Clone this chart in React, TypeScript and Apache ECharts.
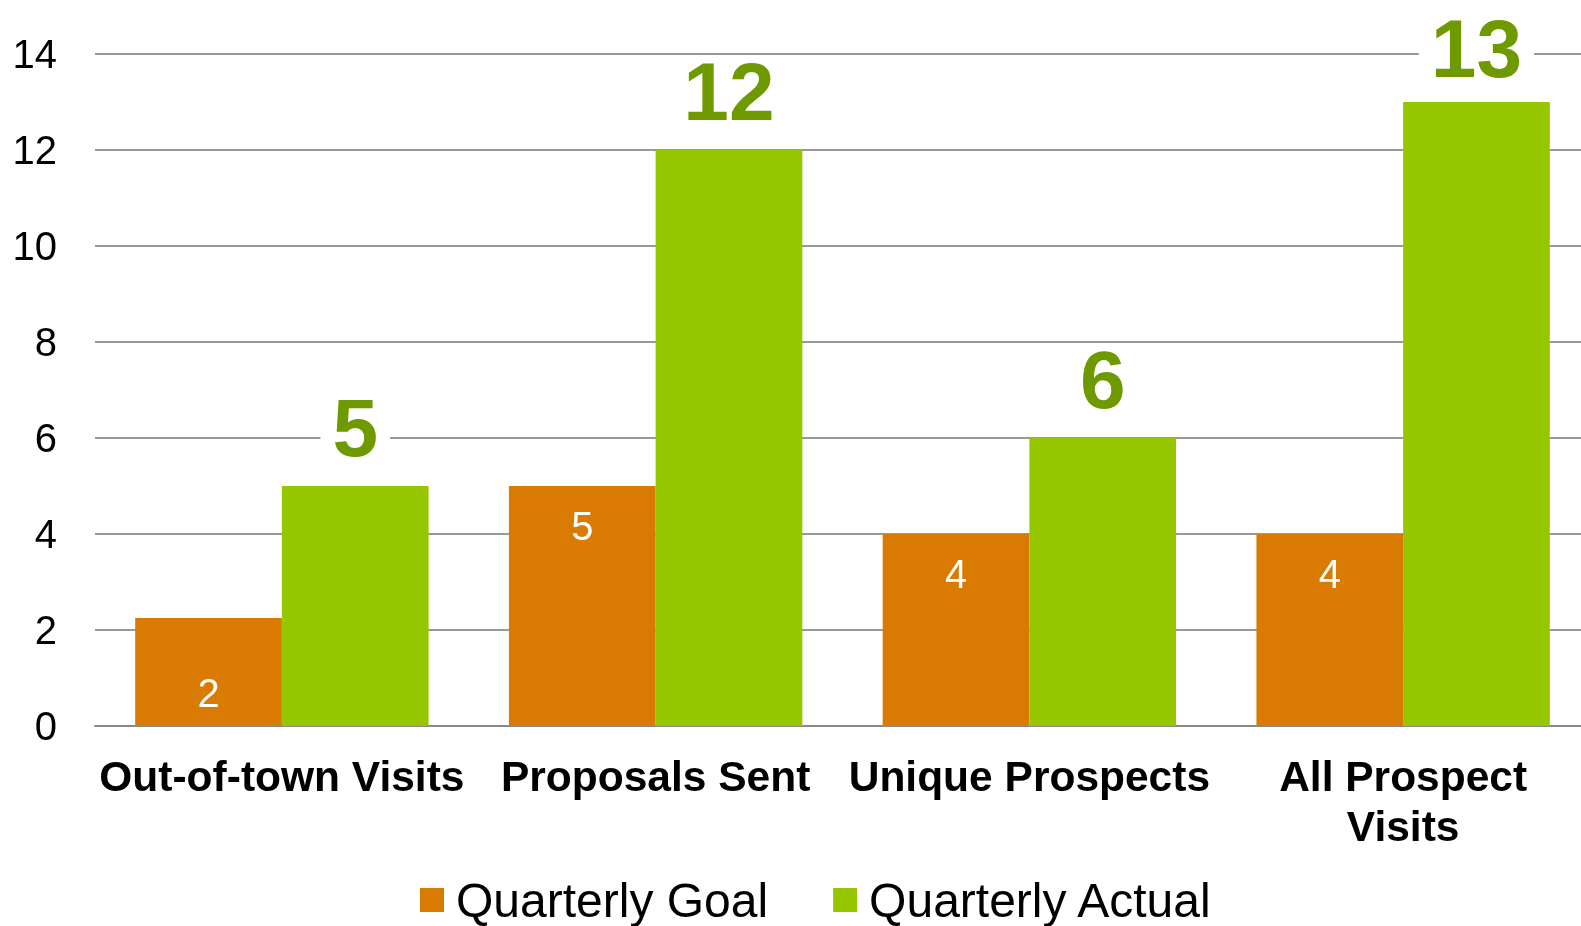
import React, { useEffect, useRef } from "react";
import * as echarts from "echarts";

const categories = ["Out-of-town Visits", "Proposals Sent", "Unique Prospects", "All Prospect\nVisits"];
const goalValues = [2.25, 5, 4, 4];
const actualValues = [5, 12, 6, 13];
const yTicks = { min: 0, max: 14, interval: 2 };

const FONT = "Liberation Sans, Arial, sans-serif";

export default function App() {
  const ref = useRef<HTMLDivElement>(null);
  useEffect(() => {
    if (!ref.current) return;
    const chart = echarts.init(ref.current, undefined, { renderer: "svg" });
    chart.setOption({
      animation: false,
      textStyle: { fontFamily: FONT },
      grid: { left: 95, right: 0, top: 54, bottom: 200, containLabel: false },
      legend: {
        left: 420,
        top: 876,
        padding: 0,
        itemWidth: 24,
        itemHeight: 24,
        itemGap: 65,
        icon: "rect",
        textStyle: { fontSize: 48, color: "#000", fontFamily: FONT, padding: [0, 0, 0, 7] },
        data: ["Quarterly Goal", "Quarterly Actual"],
      },
      xAxis: {
        type: "category",
        data: categories,
        axisLine: { show: true, lineStyle: { color: "#8a8a8a", width: 2 } },
        axisTick: { show: false },
        axisLabel: {
          interval: 0,
          fontSize: 42.5,
          fontWeight: "bold",
          color: "#000",
          lineHeight: 50,
          margin: 25,
          fontFamily: FONT,
        },
      },
      yAxis: {
        type: "value",
        min: yTicks.min,
        max: yTicks.max,
        interval: yTicks.interval,
        axisLine: { show: false },
        axisTick: { show: false },
        splitLine: { lineStyle: { color: "#999", width: 2 } },
        axisLabel: { fontSize: 40, color: "#000", margin: 38, fontFamily: FONT },
      },
      series: [
        {
          name: "Quarterly Goal",
          type: "bar",
          barGap: "0%",
          barCategoryGap: "21.5%",
          itemStyle: { color: "#D97B02" },
          data: goalValues.map((v, i) => ({
            value: v,
            label:
              i === 0
                ? { position: "insideBottom", distance: 13 }
                : { position: "insideTop", distance: 20 },
          })),
          label: {
            show: true,
            color: "#fff",
            fontSize: 40,
            lineHeight: 40,
            fontFamily: FONT,
            formatter: (p: any) => String(Math.round(p.value)),
          },
        },
        {
          name: "Quarterly Actual",
          type: "bar",
          itemStyle: { color: "#95C600" },
          data: actualValues.map((v, i) =>
            i === actualValues.length - 1 ? { value: v, label: { distance: 21 } } : v
          ),
          label: {
            show: true,
            position: "top",
            distance: 26,
            color: "#6E9A00",
            fontSize: 82,
            fontWeight: "bold",
            lineHeight: 66,
            backgroundColor: "#fff",
            padding: [0, 12],
            fontFamily: FONT,
          },
        },
      ],
    });
    return () => chart.dispose();
  }, []);
  return (
    <div
      style={{
        position: "fixed",
        left: 0,
        top: 0,
        width: 1581,
        height: 926,
        overflow: "hidden",
      }}
    >
      <div ref={ref} style={{ width: 1590, height: 926 }} />
    </div>
  );
}
